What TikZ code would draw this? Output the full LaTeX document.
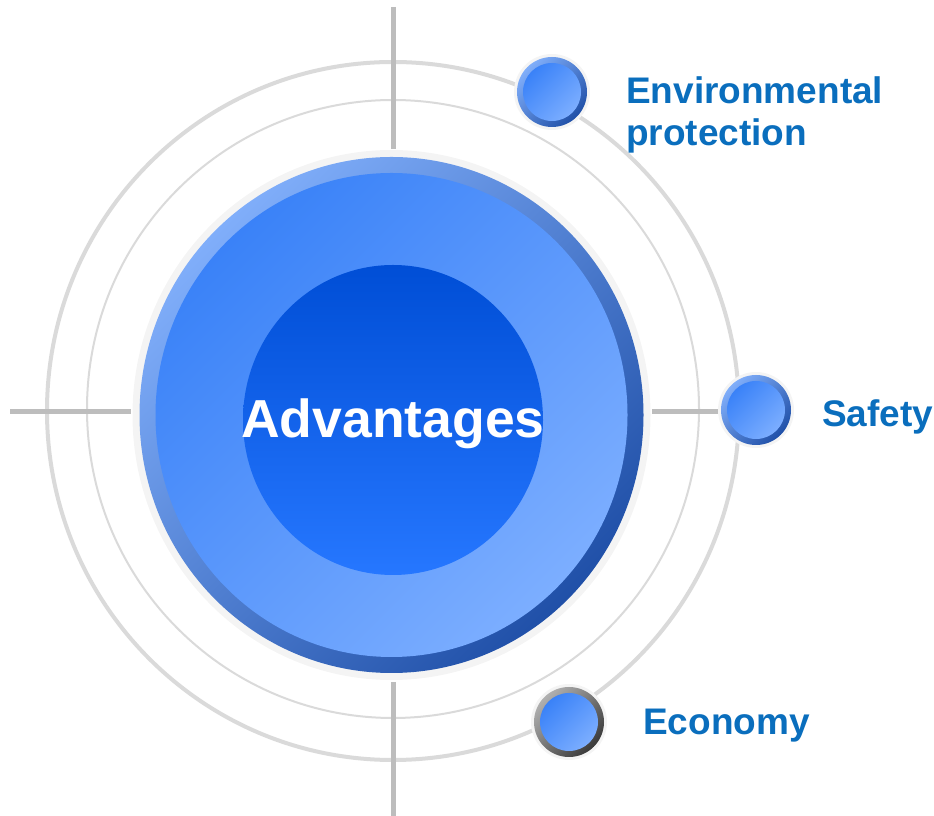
\documentclass[tikz,border=0pt]{standalone}
\usepackage{fontspec}
\setmainfont{Liberation Sans}
\definecolor{gridgray}{HTML}{BDBDBD}
\definecolor{ringgray}{HTML}{DADADA}
\definecolor{halogray}{HTML}{F4F4F4}
\definecolor{labelblue}{HTML}{0A6EBD}
\definecolor{rimlight}{HTML}{80AEFA}
\definecolor{rimdark}{HTML}{2050A8}
\definecolor{disctl}{HTML}{3A82F8}
\definecolor{discbr}{HTML}{7CAEFF}
\definecolor{coretop}{HTML}{004ED6}
\definecolor{corebot}{HTML}{2677FF}
\definecolor{greylight}{HTML}{B0B0B0}
\definecolor{greydark}{HTML}{3A3A3A}
\begin{document}
\begin{tikzpicture}[x=1pt,y=1pt,
  guide/.style={draw=gridgray, line width=5pt},
  ringline/.style={draw=ringgray},
  lbl/.style={text=labelblue, font=\bfseries\fontsize{37}{42}\selectfont, inner sep=0pt, align=left},
  halo/.style={fill=halogray},
  blueball/.style={top color=rimlight, bottom color=rimdark, shading angle=45},
  greyball/.style={top color=greylight, bottom color=greydark, shading angle=45},
  ballcore/.style={top color=disctl, bottom color=discbr, shading angle=45}]
\useasboundingbox (0,0) rectangle (934,816);
% rings
\coordinate (c) at (393,405);
\draw[ringline, line width=4pt] (c) ellipse [x radius=346, y radius=349];
\draw[ringline, line width=2pt] (393,407) ellipse [x radius=306, y radius=309];
% cross lines
\coordinate (vt1) at (393,809); \coordinate (vt2) at (393,667);
\coordinate (vb1) at (393,134); \coordinate (vb2) at (393,0);
\coordinate (hl1) at (10,404);  \coordinate (hl2) at (131,404);
\coordinate (hr1) at (652,404); \coordinate (hr2) at (722,404);
\draw[guide] (vt1) -- (vt2);
\draw[guide] (vb1) -- (vb2);
\draw[guide] (hl1) -- (hl2);
\draw[guide] (hr1) -- (hr2);
% big circle
\coordinate (big) at (391.5,401);
\fill[halo] (big) ellipse [x radius=259, y radius=265];
\shade[blueball] (big) ellipse [x radius=252, y radius=258];
\shade[ballcore] (big) ellipse [x radius=236, y radius=242];
\shade[top color=coretop, bottom color=corebot] (393,396) ellipse [x radius=150, y radius=155];
\node (adv) at (393,378) [anchor=base, text=white, inner sep=0pt, font=\bfseries\fontsize{53.5}{60}\selectfont] {Advantages};
% small balls
\coordinate (b1) at (552,724);
\coordinate (b2) at (756,406);
\coordinate (b3) at (569,94);
\foreach \p/\s in {b1/blueball, b2/blueball, b3/greyball}{
  \fill[halo] (\p) circle (38);
  \shade[\s] (\p) circle (35);
  \shade[ballcore] (\p) circle (29);
}
% labels
\node[lbl, anchor=north west] (env) at (626,740) {Environmental\\protection};
\node[lbl, anchor=base west] (saf) at (822,389) {Safety};
\node[lbl, anchor=base west] (eco) at (643,81) {Economy};
\end{tikzpicture}
\end{document}
